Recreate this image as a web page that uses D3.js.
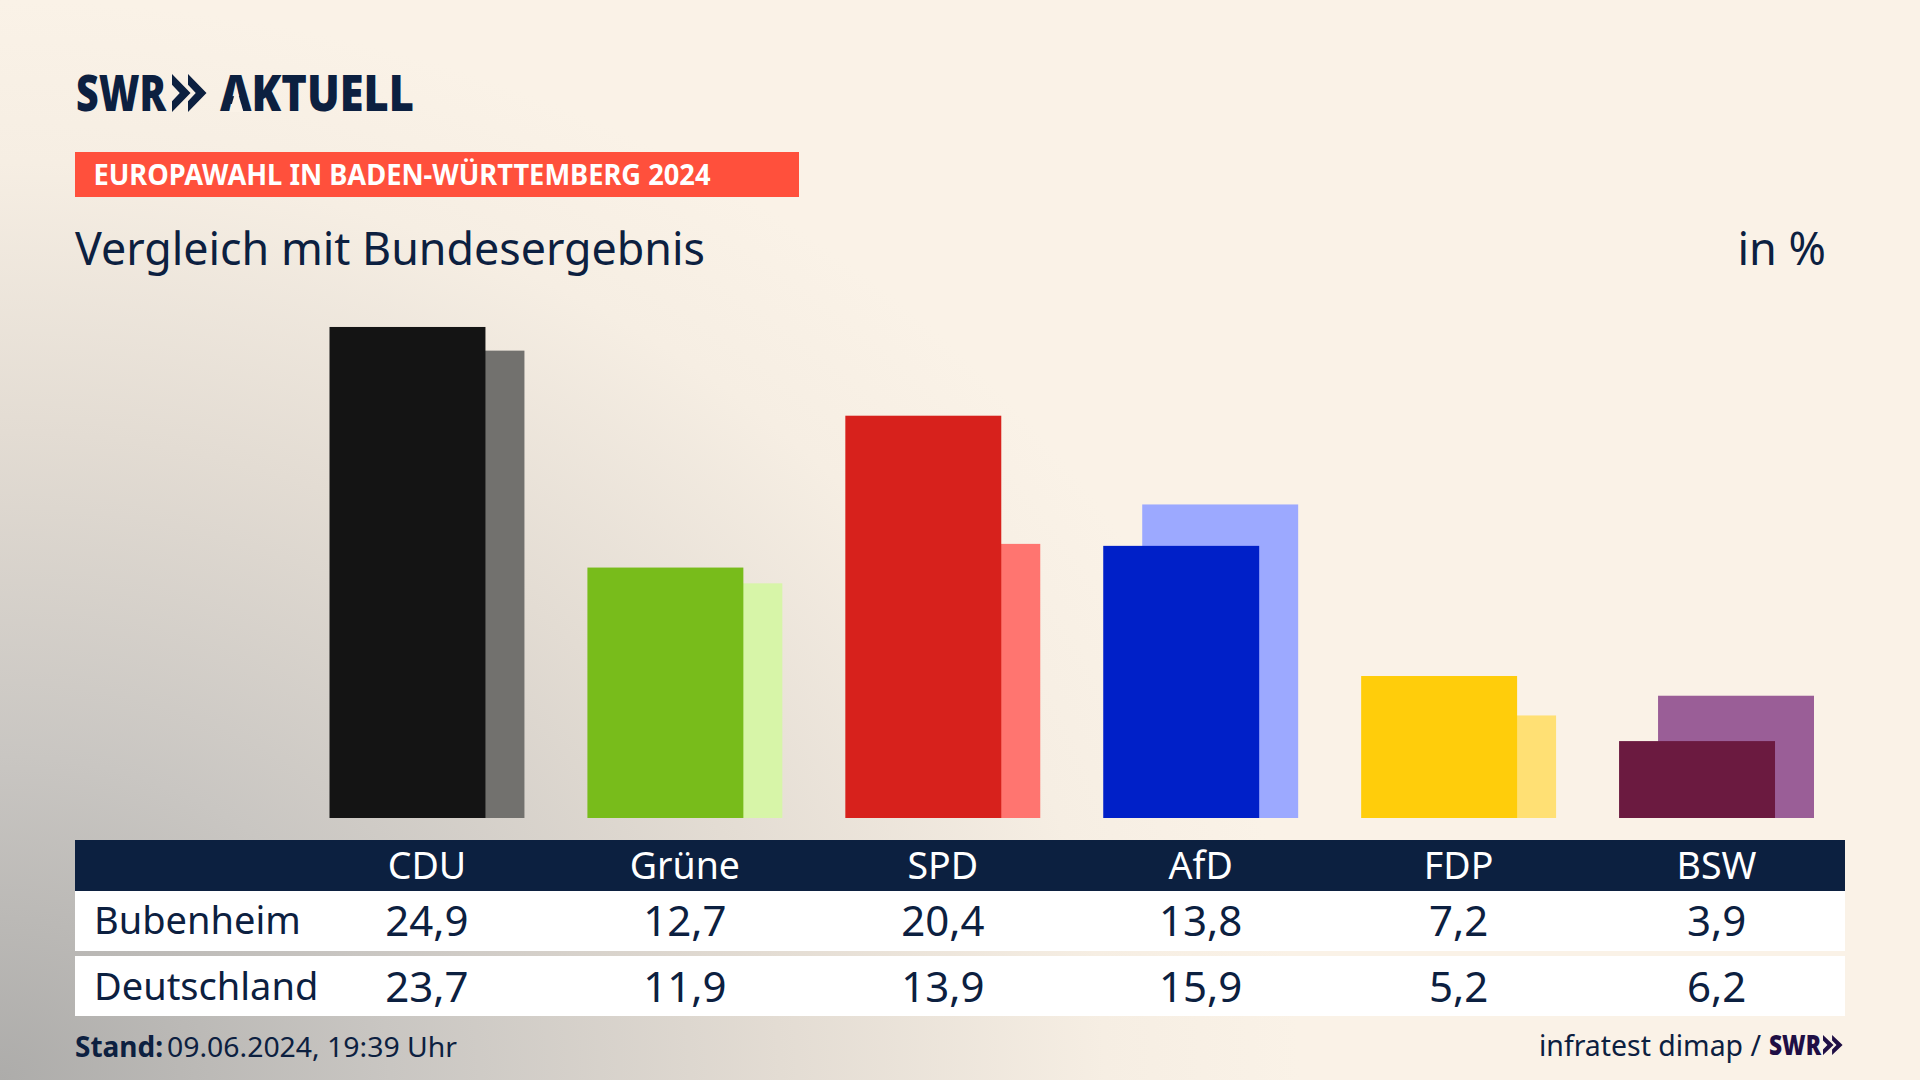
<!DOCTYPE html>
<html lang="de">
<head>
<meta charset="utf-8">
<title>Vergleich mit Bundesergebnis</title>
<script src="https://cdnjs.cloudflare.com/ajax/libs/d3/7.8.5/d3.min.js"></script>
<style>
  html, body { margin: 0; padding: 0; background: #faf2e7; overflow: hidden; }
  svg { display: block; }
  text { font-family: "Noto Sans", sans-serif; fill: #0c2040; }
</style>
</head>
<body>
<div id="chart"></div>
<script>
//Data
const parties = ["CDU", "Grüne", "SPD", "AfD", "FDP", "BSW"];
const regions = ["Bubenheim", "Deutschland"];
const valuesBubenheim = [24.9, 12.7, 20.4, 13.8, 7.2, 3.9];
const valuesDeutschland = [23.7, 11.9, 13.9, 15.9, 5.2, 6.2];
const frontColours = ["#141414", "#78bc1b", "#d7211c", "#0020c8", "#ffcd0b", "#6b1a40"];
const backColours = ["#72716e", "#d7f5a8", "#ff7570", "#9ca9ff", "#ffe074", "#9a5e97"];

const width = 1920;
const height = 1080;
const navy = "#0c2040";

const svg = d3.select("#chart")
  .append("svg")
    .attr("width", width)
    .attr("height", height)
    .attr("viewBox", `0 0 ${width} ${height}`);

/****************************/
/*        Background        */
/****************************/
const defs = svg.append("defs");
const bgGradient = defs.append("radialGradient")
  .attr("id", "bg-gradient")
  .attr("gradientUnits", "userSpaceOnUse")
  .attr("cx", 0)
  .attr("cy", 0)
  .attr("r", 1)
  .attr("gradientTransform", "translate(0, 1080) scale(1300, 1080)");
[[0, "#adacaa"], [0.3, "#c9c6c2"], [0.6, "#e3dcd3"], [0.85, "#f6eee3"], [1, "#faf2e7"]].forEach(([o, c]) => {
  bgGradient.append("stop").attr("offset", o).attr("stop-color", c);
});
svg.append("rect")
  .attr("width", width)
  .attr("height", height)
  .attr("fill", "url(#bg-gradient)");

/****************************/
/*      Header and logo     */
/****************************/
const chevrons = (g, x, top, h, w, colour) => {
  const mid = top + h / 2;
  [0, w * 0.865].forEach(dx => {
    const x0 = x + dx;
    g.append("polygon")
      .attr("points", [[x0, top], [x0 + w, mid], [x0, top + h], [x0, top + h * 0.72], [x0 + w * 0.42, mid], [x0, top + h * 0.28]].join(" "))
      .attr("fill", colour);
  });
};

const logo = svg.append("g");
logo.append("text")
  .attr("x", 76).attr("y", 111)
  .attr("font-size", 50).attr("font-weight", 900)
  .attr("textLength", 90).attr("lengthAdjust", "spacingAndGlyphs")
  .text("SWR");
chevrons(logo, 172, 74, 38, 18.5, navy);
logo.append("text")
  .attr("x", 220).attr("y", 111)
  .attr("font-size", 50).attr("font-weight", 900)
  .attr("textLength", 194).attr("lengthAdjust", "spacingAndGlyphs")
  .text("AKTUELL");
// the logo's A has no crossbar
logo.append("polygon")
  .attr("points", [[229.5, 112], [243.5, 112], [236.5, 88]].join(" "))
  .attr("fill", "#faf2e7");

svg.append("rect")
  .attr("x", 75).attr("y", 152)
  .attr("width", 724).attr("height", 45)
  .attr("fill", "#ff503c");
svg.append("text")
  .attr("x", 93.5).attr("y", 185)
  .attr("font-size", 28).attr("font-weight", 700)
  .attr("textLength", 617).attr("lengthAdjust", "spacingAndGlyphs")
  .style("fill", "#fff")
  .text("EUROPAWAHL IN BADEN-WÜRTTEMBERG 2024");

svg.append("text")
  .attr("x", 75).attr("y", 265)
  .attr("font-size", 45)
  .attr("textLength", 630).attr("lengthAdjust", "spacingAndGlyphs")
  .text("Vergleich mit Bundesergebnis");
svg.append("text")
  .attr("x", 1826).attr("y", 265)
  .attr("text-anchor", "end")
  .attr("font-size", 45)
  .text("in %");

/****************************/
/*          Scales          */
/****************************/
const xScale = d3.scaleBand()
  .domain(parties)
  .range([329.5, 1814])
  .paddingInner(63 / 258)
  .paddingOuter(0);
const yScale = d3.scaleLinear()
  .domain([0, 25])
  .range([818, 325]);

const barWidth = xScale.bandwidth() * 0.8;
const backOffset = xScale.bandwidth() * 0.2;

const barData = parties.map((party, i) => ({
  party,
  front: valuesBubenheim[i],
  back: valuesDeutschland[i],
  frontColour: frontColours[i],
  backColour: backColours[i]
}));

/****************************/
/*           Bars           */
/****************************/
const barGroups = svg.append("g")
  .selectAll("g")
  .data(barData)
  .join("g")
    .attr("transform", d => `translate(${xScale(d.party)}, 0)`);

barGroups.append("rect")
  .attr("x", backOffset)
  .attr("y", d => yScale(d.back))
  .attr("width", barWidth)
  .attr("height", d => yScale(0) - yScale(d.back))
  .attr("fill", d => d.backColour);

barGroups.append("rect")
  .attr("x", 0)
  .attr("y", d => yScale(d.front))
  .attr("width", barWidth)
  .attr("height", d => yScale(0) - yScale(d.front))
  .attr("fill", d => d.frontColour);

/****************************/
/*          Table           */
/****************************/
const tableLeft = 75;
const tableWidth = 1770;
const columnCentre = party => xScale(party) + xScale.bandwidth() / 2;
const formatValue = v => v.toFixed(1).replace(".", ",");

svg.append("rect")
  .attr("x", tableLeft).attr("y", 840)
  .attr("width", tableWidth).attr("height", 51)
  .attr("fill", navy);

svg.append("g")
  .selectAll("text")
  .data(parties)
  .join("text")
    .attr("x", d => columnCentre(d))
    .attr("y", 879)
    .attr("text-anchor", "middle")
    .attr("font-size", 37.5)
    .style("fill", "#fff")
    .text(d => d);

const rows = [
  {label: regions[0], values: valuesBubenheim, top: 891, h: 60, labelY: 934, valueY: 936},
  {label: regions[1], values: valuesDeutschland, top: 956, h: 60, labelY: 1000, valueY: 1002}
];

rows.forEach(row => {
  svg.append("rect")
    .attr("x", tableLeft).attr("y", row.top)
    .attr("width", tableWidth).attr("height", row.h)
    .attr("fill", "#fff");
  svg.append("text")
    .attr("x", 94).attr("y", row.labelY)
    .attr("font-size", 38)
    .text(row.label);
  svg.append("g")
    .selectAll("text")
    .data(row.values)
    .join("text")
      .attr("x", (d, i) => columnCentre(parties[i]))
      .attr("y", row.valueY)
      .attr("text-anchor", "middle")
      .attr("font-size", 42)
      .text(d => formatValue(d));
});

/****************************/
/*          Footer          */
/****************************/
svg.append("text")
  .attr("x", 75).attr("y", 1057)
  .attr("font-size", 28).attr("font-weight", 700)
  .attr("textLength", 88).attr("lengthAdjust", "spacingAndGlyphs")
  .text("Stand:");
svg.append("text")
  .attr("x", 167).attr("y", 1057)
  .attr("font-size", 28)
  .attr("textLength", 290).attr("lengthAdjust", "spacingAndGlyphs")
  .text("09.06.2024, 19:39 Uhr");

svg.append("text")
  .attr("x", 1539).attr("y", 1056)
  .attr("font-size", 29)
  .attr("textLength", 222).attr("lengthAdjust", "spacingAndGlyphs")
  .text("infratest dimap /");
const footerPurple = "#1f0f45";
svg.append("text")
  .attr("x", 1769).attr("y", 1055)
  .attr("font-size", 28).attr("font-weight", 900)
  .attr("textLength", 52).attr("lengthAdjust", "spacingAndGlyphs")
  .style("fill", footerPurple)
  .text("SWR");
chevrons(svg.append("g"), 1823, 1035, 20, 10.5, footerPurple);
</script>
</body>
</html>
